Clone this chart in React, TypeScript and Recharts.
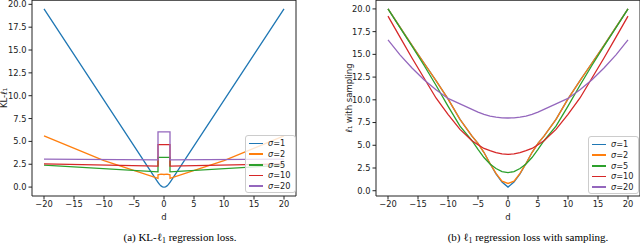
import React from "react";
import { LineChart, Line, XAxis, YAxis, ReferenceLine } from "recharts";

const COLORS = ["#1f77b4", "#ff7f0e", "#2ca02c", "#d62728", "#9467bd"];
const SIGMAS = ["1", "2", "5", "10", "20"];
const X_TICKS = [-20, -15, -10, -5, 0, 5, 10, 15, 20];
const Y_TICKS = [0, 2.5, 5, 7.5, 10, 12.5, 15, 17.5, 20];

// (a) KL-l1 regression loss
const klBlueD = [-20, -1.5, -1.25, -1, -0.75, -0.5, -0.25, 0, 0.25, 0.5, 0.75, 1, 1.25, 1.5, 20];
const klBlueV = [19.5, 1.0, 0.76, 0.52, 0.29, 0.13, 0.03, 0, 0.03, 0.13, 0.29, 0.52, 0.76, 1.0, 19.5];
const klOrangeD = [-20, -10, -1, -1, -0.5, 0, 0.5, 1, 1, 10, 20];
const klOrangeV = [5.6, 2.9, 0.95, 1.35, 1.42, 1.38, 1.42, 1.35, 0.95, 2.9, 5.6];
const klStepD = [-20, -1, -1, 1, 1, 20];
const klGreenV = [2.4, 1.67, 3.25, 3.25, 1.67, 2.4];
const klRedV = [2.55, 2.3, 4.65, 4.65, 2.3, 2.55];
const klPurpleV = [3.05, 2.97, 6.05, 6.05, 2.97, 3.05];

// (b) l1 regression loss with sampling
const sampD = [-20, -18, -16, -14, -12, -10, -8, -6, -5, -4, -3, -2, -1, 0, 1, 2, 3, 4, 5, 6, 8, 10, 12, 14, 16, 18, 20];
const sampBlue = [20.0, 18.0, 16.0, 14.05, 12.1, 10.1, 7.85, 6.0, 5.2, 4.2, 3.0, 1.85, 0.95, 0.4, 0.95, 1.85, 3.0, 4.2, 5.2, 6.0, 7.85, 10.1, 12.1, 14.05, 16.0, 18.0, 20.0];
const sampOrange = [20.0, 18.0, 16.0, 14.05, 12.1, 10.1, 7.85, 6.0, 5.2, 4.2, 3.0, 1.9, 1.05, 0.8, 1.05, 1.9, 3.0, 4.2, 5.2, 6.0, 7.85, 10.1, 12.1, 14.05, 16.0, 18.0, 20.0];
const sampGreen = [20.0, 17.95, 15.9, 13.8, 11.6, 9.3, 7.1, 5.5, 4.55, 3.65, 2.95, 2.45, 2.1, 2.0, 2.1, 2.45, 2.95, 3.65, 4.55, 5.5, 7.1, 9.3, 11.6, 13.8, 15.9, 17.95, 20.0];
const sampRed = [19.2, 16.9, 14.6, 12.4, 10.2, 8.4, 6.75, 5.5, 5.05, 4.65, 4.4, 4.2, 4.05, 4.0, 4.05, 4.2, 4.4, 4.65, 5.05, 5.5, 6.75, 8.4, 10.2, 12.4, 14.6, 16.9, 19.2];
const sampPurple = [16.6, 14.95, 13.5, 12.2, 11.1, 10.15, 9.55, 8.95, 8.65, 8.4, 8.2, 8.09, 8.02, 8.0, 8.02, 8.09, 8.2, 8.4, 8.65, 8.95, 9.55, 10.15, 11.1, 12.2, 13.5, 14.95, 16.6];

const zip = (d: number[], v: number[]) => d.map((x, i) => ({ d: x, v: v[i] }));

const klSeries = [
  zip(klBlueD, klBlueV),
  zip(klOrangeD, klOrangeV),
  zip(klStepD, klGreenV),
  zip(klStepD, klRedV),
  zip(klStepD, klPurpleV),
];
const sampSeries = [sampBlue, sampOrange, sampGreen, sampRed, sampPurple].map((v) => zip(sampD, v));

const FONT = "'DejaVu Sans', sans-serif";
const tickStyle = { fontSize: 8.3, fill: "#222", fontFamily: FONT };
const fmtX = (v: number) => (v < 0 ? "\u2212" + Math.abs(v) : String(v));

function LegendBox({ left, top }: { left: number; top: number }) {
  return (
    <div
      style={{
        position: "absolute",
        left,
        top,
        width: 51,
        height: 58,
        boxSizing: "border-box",
        background: "rgba(255,255,255,0.8)",
        border: "1px solid #cccccc",
        borderRadius: 3,
        paddingTop: 2,
        fontFamily: FONT,
        fontSize: 8.2,
        color: "#222",
      }}
    >
      {SIGMAS.map((s, i) => (
        <div key={s} style={{ display: "flex", alignItems: "center", height: 10.7 }}>
          <div style={{ width: 14, height: 1.6, background: COLORS[i], marginLeft: 3, marginRight: 5 }} />
          <span>
            <i>σ</i>={s}
          </span>
        </div>
      ))}
    </div>
  );
}

function Panel({
  series,
  yDomain,
  yWidth,
  marginRight,
  yLabel,
  labelX,
}: {
  series: { d: number; v: number }[][];
  yDomain: [number, number];
  yWidth: number;
  marginRight: number;
  yLabel: string;
  labelX: number;
}) {
  return (
    <LineChart width={320} height={246} margin={{ top: 0, right: marginRight, left: 0, bottom: 26 }}>
      <XAxis
        type="number"
        dataKey="d"
        domain={[-22, 22]}
        ticks={X_TICKS}
        tickFormatter={fmtX}
        interval={0}
        allowDataOverflow
        tick={tickStyle}
        tickSize={3.5}
        tickMargin={2}
        height={24}
        axisLine={{ stroke: "#222" }}
        tickLine={{ stroke: "#222" }}
        label={{ value: "d", position: "insideBottom", offset: 0, fontSize: 8.5, fill: "#222", fontFamily: FONT }}
      />
      <YAxis
        type="number"
        domain={yDomain}
        ticks={Y_TICKS}
        tickFormatter={(v: number) => v.toFixed(1)}
        interval={0}
        allowDataOverflow
        width={yWidth}
        tick={tickStyle}
        tickSize={3.5}
        tickMargin={2}
        axisLine={{ stroke: "#222" }}
        tickLine={{ stroke: "#222" }}
        label={{
          value: yLabel,
          angle: -90,
          position: "insideLeft",
          offset: labelX,
          fontSize: 8.5,
          fill: "#222",
          fontFamily: FONT,
          style: { textAnchor: "middle" },
        }}
      />
      <ReferenceLine y={yDomain[1]} stroke="#222" strokeWidth={1.5} />
      <ReferenceLine x={22} stroke="#222" />
      {series.map((data, i) => (
        <Line
          key={SIGMAS[i]}
          data={data}
          dataKey="v"
          name={"σ=" + SIGMAS[i]}
          type="linear"
          stroke={COLORS[i]}
          strokeWidth={1.3}
          dot={false}
          isAnimationActive={false}
        />
      ))}
    </LineChart>
  );
}

const captionStyle: React.CSSProperties = {
  position: "absolute",
  top: 232,
  width: 240,
  textAlign: "center",
  fontFamily: "'Liberation Serif', serif",
  fontSize: 11,
  lineHeight: 1,
  color: "#000",
  whiteSpace: "nowrap",
};

const Sub = () => <span style={{ fontSize: 7.8, position: "relative", top: 2 }}>1</span>;

export default function App() {
  return (
    <div style={{ position: "absolute", left: 0, top: 0, width: 640, height: 246, background: "#fff", overflow: "hidden" }}>
      <div style={{ position: "absolute", left: 0, top: 0 }}>
        <Panel series={klSeries} yDomain={[-0.975, 20.475]} yWidth={32} marginRight={24} yLabel="KL-ℓ₁" labelX={4} />
      </div>
      <div style={{ position: "absolute", left: 320, top: 0 }}>
        <Panel series={sampSeries} yDomain={[-0.58, 20.98]} yWidth={56} marginRight={0} yLabel="ℓ₁ with sampling" labelX={29} />
      </div>
      <LegendBox left={245} top={135} />
      <LegendBox left={588} top={136} />
      <div style={{ ...captionStyle, left: 60 }}>
        (a) KL-ℓ<Sub /> regression loss.
      </div>
      <div style={{ ...captionStyle, left: 408 }}>
        (b) ℓ<Sub /> regression loss with sampling.
      </div>
    </div>
  );
}
